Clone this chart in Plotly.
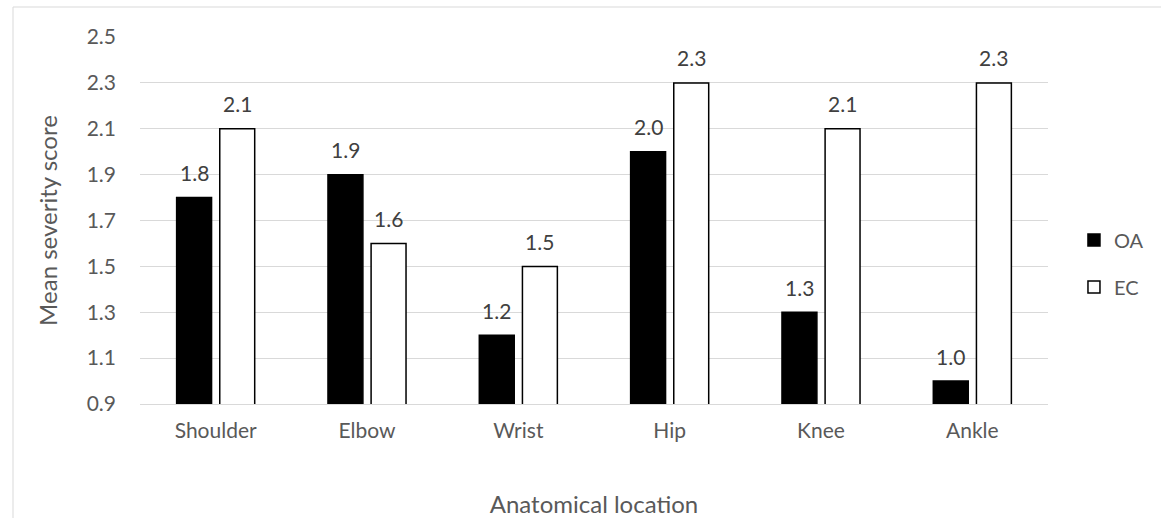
import plotly.graph_objects as go

categories = ["Shoulder", "Elbow", "Wrist", "Hip", "Knee", "Ankle"]
oa_values = [1.8, 1.9, 1.2, 2.0, 1.3, 1.0]
ec_values = [2.1, 1.6, 1.5, 2.3, 2.1, 2.3]
y_ticks = [0.9, 1.1, 1.3, 1.5, 1.7, 1.9, 2.1, 2.3, 2.5]

FONT = "Lato, 'Open Sans', sans-serif"
TXT = "#595959"
LBL = "#404040"

fig = go.Figure()
fig.add_trace(go.Bar(
    name="OA", x=categories, y=oa_values,
    marker=dict(color="black", line=dict(color="black", width=1.5)),
    legendgroup="a",
))
fig.add_trace(go.Bar(
    name="EC", x=categories, y=ec_values,
    marker=dict(color="white", line=dict(color="black", width=1.5)),
    legendgroup="b",
))

annotations = []
for series, shift in ((oa_values, -21.5), (ec_values, 21.5)):
    for cat, val in zip(categories, series):
        annotations.append(dict(
            x=cat, y=val, xref="x", yref="y", text=f"{val:.1f}",
            showarrow=False, xshift=shift, yshift=25, yanchor="middle",
            font=dict(size=21, color=LBL, family=FONT),
        ))

fig.update_layout(
    width=1161, height=518,
    margin=dict(l=140, r=113, t=37, b=114),
    plot_bgcolor="white", paper_bgcolor="white",
    barmode="group", bargap=0.43, bargroupgap=0.19,
    font=dict(family=FONT, color=TXT, size=20),
    showlegend=True,
    legend=dict(x=1.0286, y=0.383, xanchor="left", yanchor="middle",
                font=dict(size=20, color=TXT), traceorder="grouped",
                tracegroupgap=18, bgcolor="rgba(0,0,0,0)"),
    xaxis=dict(showgrid=False, showline=True, linecolor="#d9d9d9", linewidth=1,
               automargin=False,
               ticks="", ticklabelstandoff=8, tickfont=dict(size=21, color=TXT),
               title=dict(text="Anatomical location", font=dict(size=24, color=TXT), standoff=57)),
    yaxis=dict(range=[0.9, 2.5], tickvals=y_ticks, ticktext=[f"{v:.1f}" for v in y_ticks],
               automargin=False,
               showgrid=True, gridcolor="#d9d9d9", gridwidth=1, zeroline=False,
               showline=False, ticks="", ticklabelstandoff=23,
               tickfont=dict(size=21, color=TXT),
               title=dict(text="Mean severity score", font=dict(size=24, color=TXT), standoff=22)),
    annotations=annotations,
    shapes=[dict(type="rect", xref="paper", yref="paper",
                 x0=(13 - 140) / 908, x1=1.3, y0=-0.6, y1=(404 - 7) / 367,
                 line=dict(color="#d9d9d9", width=1), fillcolor="rgba(0,0,0,0)", layer="below")],
)

fig.write_html("out.html")
